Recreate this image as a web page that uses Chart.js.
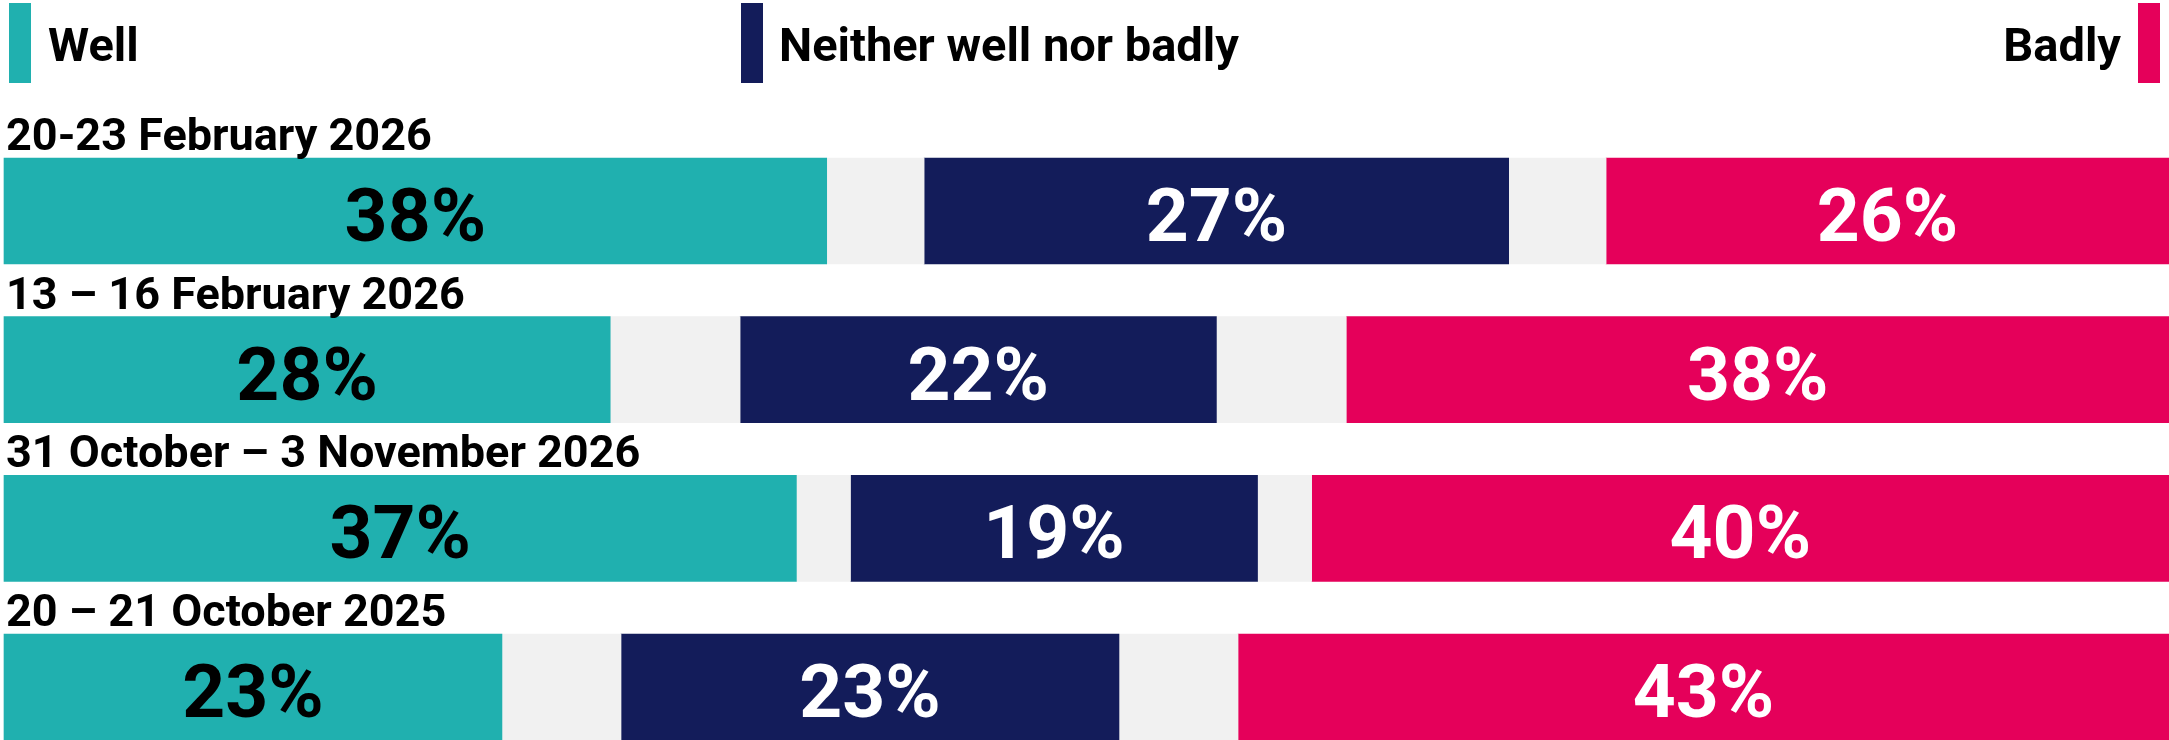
<!DOCTYPE html>
<html>
<head>
<meta charset="utf-8">
<script src="https://cdn.jsdelivr.net/npm/chart.js@4/dist/chart.umd.min.js"></script>
<style>
  html, body { margin: 0; padding: 0; background: #ffffff; overflow: hidden; }
  #wrap { position: relative; width: 2169px; height: 740px; }
  #chart { position: absolute; left: 0; top: 0; }
  .lg { position: absolute; top: 3px; height: 80px; font-family: Roboto, "Noto Sans", sans-serif; font-weight: 700; font-size: 47px; color: #000; }
  .mk { position: absolute; top: 0; width: 22px; height: 80px; }
  .lt { position: absolute; top: 14px; line-height: 56px; white-space: nowrap; }
</style>
</head>
<body>
<div id="wrap">
  <canvas id="chart" width="2169" height="740"></canvas>
  <div id="legend"></div>
</div>
<script>
// ---- data ----
const categories = ["20-23 February 2026", "13 – 16 February 2026", "31 October – 3 November 2026", "20 – 21 October 2025"];
const well    = [38, 28, 36.6, 23];
const neither = [27, 22, 18.8, 23];
const badly   = [26, 38, 39.6, 43];
const gap     = [4.5, 6, 2.5, 5.5];   // light grey spacer on each side of "Neither"
const seriesNames = ["Well", "Neither well nor badly", "Badly"];

const colWell = "#20b0af", colNeither = "#131c5a", colBadly = "#e5005a", colGap = "#f1f1f1";
const FONT = "Roboto, 'Noto Sans', sans-serif";
const BAR = 106;

// ---- HTML legend ----
const legend = document.getElementById("legend");
function addLegend(name, color, markerLeft, textLeft, textRight) {
  const d = document.createElement("div");
  d.className = "lg";
  d.style.left = "0px"; d.style.width = "2169px";
  const m = document.createElement("div");
  m.className = "mk"; m.style.left = markerLeft + "px"; m.style.background = color;
  const t = document.createElement("div");
  t.className = "lt"; t.textContent = name;
  if (textRight !== undefined) { t.style.right = (2169 - textRight) + "px"; } else { t.style.left = textLeft + "px"; }
  d.appendChild(m); d.appendChild(t);
  legend.appendChild(d);
}
addLegend(seriesNames[0], colWell, 9, 48);
addLegend(seriesNames[1], colNeither, 741, 779);
addLegend(seriesNames[2], colBadly, 2138, undefined, 2121);

// ---- labels plugin ----
const labelsPlugin = {
  id: "labels",
  afterDatasetsDraw(chart) {
    const ctx = chart.ctx;
    const ys = chart.scales.y;
    ctx.save();
    // category titles above each bar
    ctx.font = "700 45px " + FONT;
    ctx.fillStyle = "#000";
    ctx.textAlign = "left";
    ctx.textBaseline = "alphabetic";
    categories.forEach((c, i) => {
      const yc = ys.getPixelForValue(i);
      ctx.fillText(c, 6, yc - BAR / 2 - 8);
    });
    // value labels
    ctx.font = "700 75px " + FONT;
    ctx.textAlign = "center";
    chart.data.datasets.forEach((ds, di) => {
      if (!ds.showValue) return;
      const meta = chart.getDatasetMeta(di);
      meta.data.forEach((el, i) => {
        const x = (el.x + el.base) / 2;
        ctx.fillStyle = ds.valueColor;
        ctx.fillText(Math.round(ds.data[i]) + "%", x, el.y + 30);
      });
    });
    ctx.restore();
  }
};

new Chart(document.getElementById("chart"), {
  type: "bar",
  data: {
    labels: categories,
    datasets: [
      { label: seriesNames[0], data: well, backgroundColor: colWell, showValue: true, valueColor: "#000" },
      { label: "gap1", data: gap, backgroundColor: colGap, showValue: false },
      { label: seriesNames[1], data: neither, backgroundColor: colNeither, showValue: true, valueColor: "#fff" },
      { label: "gap2", data: gap, backgroundColor: colGap, showValue: false },
      { label: seriesNames[2], data: badly, backgroundColor: colBadly, showValue: true, valueColor: "#fff" }
    ].map(d => Object.assign(d, { barThickness: BAR, borderWidth: 0, clip: false }))
  },
  options: {
    indexAxis: "y",
    responsive: false,
    animation: false,
    layout: { padding: { top: 211, bottom: 53, left: 4, right: 0 } },
    plugins: { legend: { display: false }, tooltip: { enabled: false } },
    scales: {
      x: { stacked: true, min: 0, max: 100, display: false },
      y: { stacked: true, offset: false, display: false }
    }
  },
  plugins: [labelsPlugin]
});
</script>
</body>
</html>
